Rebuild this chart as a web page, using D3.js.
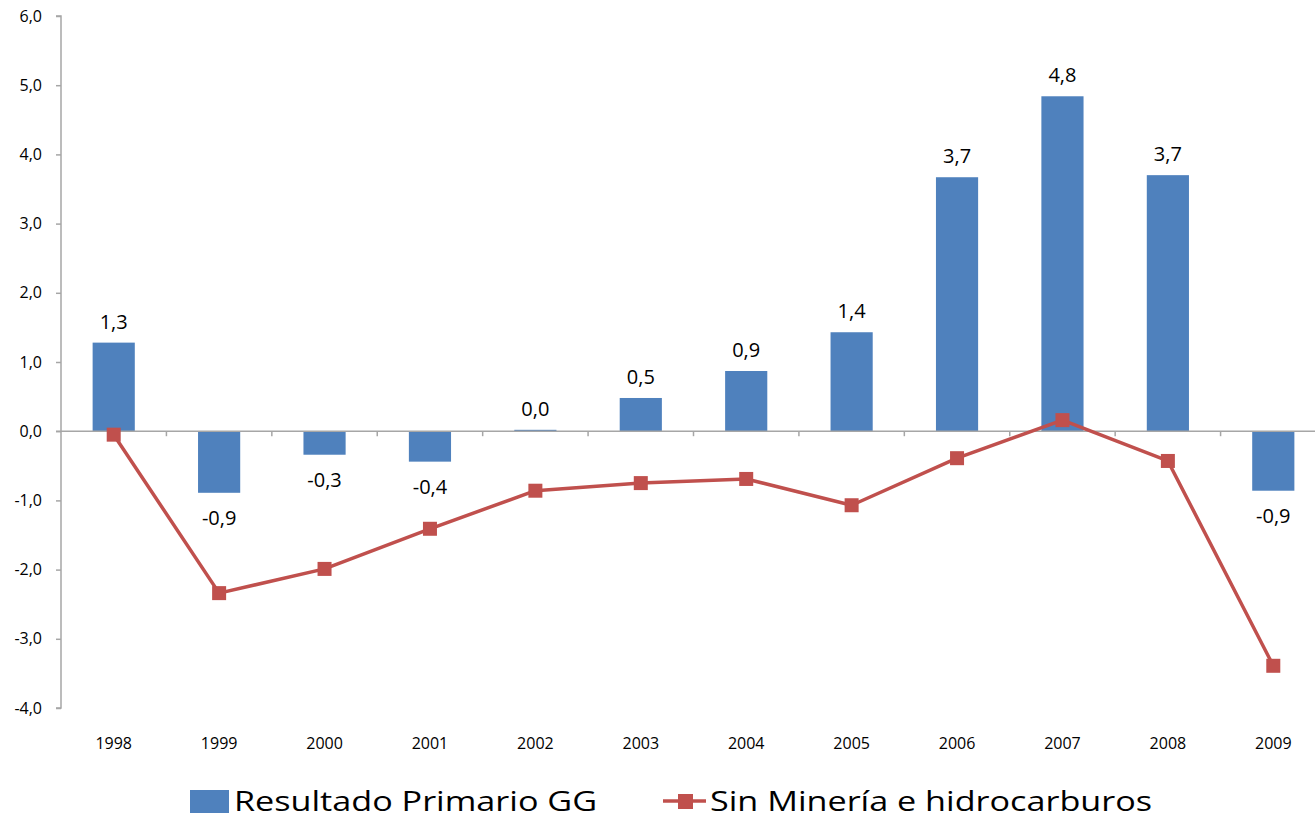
<!DOCTYPE html>
<html><head><meta charset="utf-8">
<script src="https://cdn.jsdelivr.net/npm/d3@7"></script>
<style>body{margin:0;background:#fff;overflow:hidden}svg{display:block}text{font-family:"Open Sans",Lato,sans-serif;fill:#000}</style>
</head><body><svg id="c" width="1315" height="819"></svg>
<script>
const years = ["1998","1999","2000","2001","2002","2003","2004","2005","2006","2007","2008","2009"];
const primario = [1.28,-0.89,-0.34,-0.44,0.02,0.48,0.87,1.43,3.67,4.84,3.70,-0.86];
const sinMineria = [-0.05,-2.34,-1.99,-1.41,-0.86,-0.75,-0.69,-1.07,-0.39,0.16,-0.43,-3.39];
const yTicks = [6,5,4,3,2,1,0,-1,-2,-3,-4];
const seriesNames = ["Resultado Primario GG","Sin Minería e hidrocarburos"];

const svg = d3.select("#c");
const blue = "#4f81bd", red = "#c0504d", axisCol = "#a6a6a6";
const x = d3.scaleBand().domain(years).range([61, 1326]).padding(0);
const y = d3.scaleLinear().domain([-4, 6]).range([708, 16]);
const fmt = v => d3.format(".1f")(v).replace(".", ",").replace("−","-");

// y axis
const ya = svg.append("g").attr("transform","translate(61,0)")
  .call(d3.axisLeft(y).tickValues(yTicks).tickSize(5).tickPadding(14).tickFormat(fmt));
ya.select(".domain").attr("stroke",axisCol).attr("stroke-width",1.5).attr("d","M-5,"+y(6)+"H0V"+y(-4)+"H-5");
ya.selectAll(".tick line").attr("stroke",axisCol).attr("stroke-width",1.5);
ya.selectAll(".tick text").style("font-size","16px").style("font-family","'Open Sans',sans-serif").attr("fill","#000");

// bars
const bw = x.bandwidth()*0.4;
svg.append("g").selectAll("rect").data(years).join("rect")
  .attr("x", d => x(d)+x.bandwidth()/2-bw/2)
  .attr("width", bw)
  .attr("y", (d,i) => y(Math.max(0, primario[i])))
  .attr("height", (d,i) => Math.abs(y(primario[i])-y(0)))
  .attr("fill", blue);

// zero axis with boundary ticks
svg.append("line").attr("x1",56).attr("x2",1315).attr("y1",y(0)).attr("y2",y(0)).attr("stroke",axisCol).attr("stroke-width",1.5);
svg.append("g").selectAll("line").data(years.slice(1)).join("line")
  .attr("x1", d=>x(d)).attr("x2", d=>x(d)).attr("y1", y(0)).attr("y2", y(0)+5)
  .attr("stroke",axisCol).attr("stroke-width",1.5);

// x labels
svg.append("g").selectAll("text").data(years).join("text")
  .attr("x", d => x(d)+x.bandwidth()/2).attr("y", 749)
  .attr("text-anchor","middle").style("font-size","16px").text(d=>d);

// bar labels
svg.append("g").selectAll("text").data(years).join("text")
  .attr("x", d => x(d)+x.bandwidth()/2)
  .attr("y", (d,i) => primario[i] >= 0 ? y(primario[i]) - 14 : y(primario[i]) + 32)
  .attr("text-anchor","middle").style("font-size","20px")
  .text((d,i)=>fmt(primario[i]));

// line
const line = d3.line().x((d,i)=>x(years[i])+x.bandwidth()/2).y(d=>y(d));
svg.append("path").datum(sinMineria).attr("d",line).attr("fill","none").attr("stroke",red).attr("stroke-width",3.5).attr("stroke-linejoin","round");
svg.append("g").selectAll("rect").data(sinMineria).join("rect")
  .attr("x",(d,i)=>x(years[i])+x.bandwidth()/2-7).attr("y",d=>y(d)-7)
  .attr("width",14).attr("height",14).attr("fill",red);

// legend
const lg = svg.append("g");
lg.append("rect").attr("x",190).attr("y",790).attr("width",39).attr("height",23).attr("fill",blue);
lg.append("text").attr("x",234).attr("y",811).style("font-size","28px")
  .attr("textLength",363).attr("lengthAdjust","spacingAndGlyphs").text(seriesNames[0]);
lg.append("line").attr("x1",663).attr("x2",706).attr("y1",801).attr("y2",801).attr("stroke",red).attr("stroke-width",3.5);
lg.append("rect").attr("x",678).attr("y",794).attr("width",15).attr("height",15).attr("fill",red);
lg.append("text").attr("x",710).attr("y",811).style("font-size","28px")
  .attr("textLength",442).attr("lengthAdjust","spacingAndGlyphs").text(seriesNames[1]);
</script></body></html>
